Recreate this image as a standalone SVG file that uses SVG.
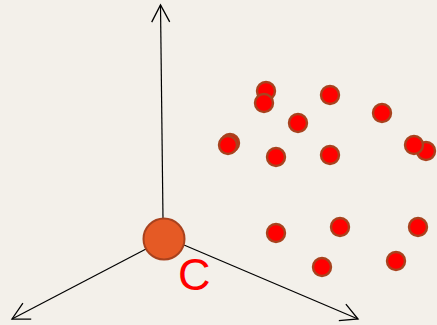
<svg xmlns="http://www.w3.org/2000/svg" width="437" height="325" viewBox="0 0 437 325">
<style>
.axis{stroke:#000;stroke-width:1.2;fill:none}
.dot{fill:#FF0000;stroke:#A8421E;stroke-width:2.4}
.label{font-family:"Liberation Sans",Arial,sans-serif;font-size:45px;fill:#FF0000}
</style>
<defs>
<marker id="arr" viewBox="0 0 20 20" refX="18" refY="10" markerWidth="20" markerHeight="20" markerUnits="userSpaceOnUse" orient="auto">
<path d="M1,1 L18,10 L1,19" fill="none" stroke="#000" stroke-width="1.3"/>
</marker>
</defs>
<rect width="437" height="325" fill="#F3F0EA"/>
<g id="connectors">
<line class="axis" x1="163" y1="220" x2="160.5" y2="5" marker-end="url(#arr)"/>
<line class="axis" x1="146" y1="249" x2="12" y2="319" marker-end="url(#arr)"/>
<line class="axis" x1="184" y1="245" x2="358" y2="319" marker-end="url(#arr)"/>
</g>
<g id="origin">
<circle cx="164" cy="239" r="20.5" fill="#E55A25" stroke="#A8421E" stroke-width="2"/>
<text class="label" x="178" y="290">C</text>
</g>
<g id="points">
<circle class="dot" cx="266" cy="91" r="9"/>
<circle class="dot" cx="264" cy="103" r="9"/>
<circle class="dot" cx="330" cy="95" r="9"/>
<circle class="dot" cx="382" cy="113" r="9"/>
<circle class="dot" cx="298" cy="123" r="9"/>
<circle class="dot" cx="230" cy="143" r="9"/>
<circle class="dot" cx="228" cy="145" r="9"/>
<circle class="dot" cx="276" cy="157" r="9"/>
<circle class="dot" cx="330" cy="155" r="9"/>
<circle class="dot" cx="426" cy="151" r="9"/>
<circle class="dot" cx="414" cy="145" r="9"/>
<circle class="dot" cx="276" cy="233" r="9"/>
<circle class="dot" cx="340" cy="227" r="9"/>
<circle class="dot" cx="418" cy="227" r="9"/>
<circle class="dot" cx="322" cy="267" r="9"/>
<circle class="dot" cx="396" cy="261" r="9"/>
</g>
</svg>
